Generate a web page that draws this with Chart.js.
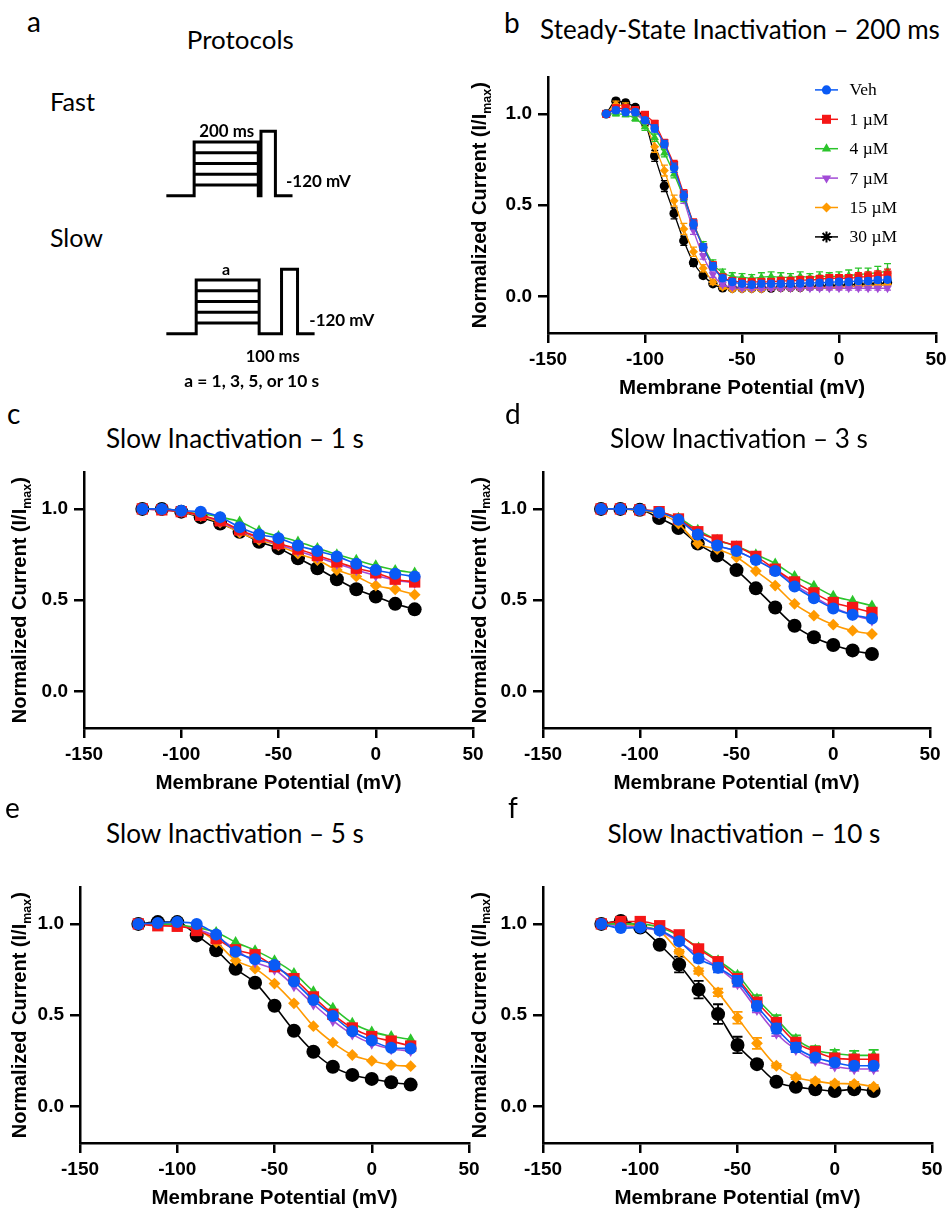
<!DOCTYPE html>
<html><head><meta charset="utf-8">
<script src="https://cdn.jsdelivr.net/npm/chart.js@4.4.1/dist/chart.umd.min.js"></script>
<style>
html,body{margin:0;padding:0;background:#fff;}
body{width:946px;height:1211px;position:relative;overflow:hidden;}
.t{position:absolute;white-space:nowrap;line-height:1;color:#000;left:0;top:0;}
canvas{position:absolute;}
</style></head><body>
<script>
// ================= DATA =================
const seriesNames = ['Veh', '1 µM', '4 µM', '7 µM', '15 µM', '30 µM'];
const xTickValues = [-150, -100, -50, 0, 50];
const yTickValues = [0, 0.5, 1.0];

// b: steady-state inactivation (200 ms)
const ssiVoltages = [-120,-115,-110,-105,-100,-95,-90,-85,-80,-75,-70,-65,-60,-55,-50,-45,-40,-35,-30,-25,-20,-15,-10,-5,0,5,10,15,20,25];
const ssiVeh = [1.00,1.02,1.01,1.01,0.965,0.92,0.835,0.705,0.552,0.395,0.27,0.165,0.10,0.08,0.07,0.065,0.07,0.07,0.07,0.07,0.072,0.075,0.075,0.078,0.08,0.08,0.085,0.085,0.09,0.092];
const ssi1 = [1.00,1.03,1.03,1.02,0.995,0.945,0.84,0.72,0.56,0.40,0.27,0.17,0.105,0.085,0.08,0.08,0.08,0.08,0.085,0.085,0.09,0.09,0.095,0.10,0.10,0.10,0.105,0.11,0.115,0.12];
const ssi4 = [1.00,1.00,0.995,0.975,0.93,0.87,0.785,0.67,0.54,0.40,0.28,0.18,0.13,0.11,0.105,0.10,0.105,0.11,0.105,0.105,0.11,0.105,0.11,0.11,0.11,0.115,0.12,0.125,0.13,0.14];
const ssi7 = [1.00,1.02,1.02,1.00,0.96,0.92,0.83,0.70,0.53,0.36,0.22,0.12,0.065,0.05,0.045,0.045,0.045,0.045,0.045,0.045,0.045,0.045,0.045,0.045,0.045,0.045,0.045,0.045,0.045,0.045];
const ssi15 = [1.00,1.05,1.04,1.01,0.95,0.82,0.69,0.525,0.37,0.245,0.155,0.08,0.05,0.04,0.04,0.04,0.04,0.045,0.045,0.045,0.045,0.05,0.05,0.05,0.05,0.055,0.055,0.06,0.06,0.065];
const ssi30 = [1.00,1.07,1.06,1.035,0.955,0.77,0.605,0.455,0.305,0.185,0.115,0.07,0.047,0.045,0.045,0.045,0.045,0.045,0.05,0.05,0.05,0.055,0.055,0.06,0.06,0.065,0.065,0.07,0.07,0.075];
const ssiVehErr = [0,0.015,0.015,0.015,0.015,0.02,0.02,0.025,0.025,0.025,0.02,0.02,0.015,0.015,0.015,0.015,0.015,0.015,0.015,0.015,0.015,0.015,0.015,0.015,0.015,0.015,0.015,0.015,0.015,0.015];
const ssi1Err = [0,0.02,0.02,0.02,0.015,0.02,0.02,0.025,0.025,0.025,0.02,0.02,0.015,0.015,0.015,0.015,0.015,0.015,0.02,0.02,0.02,0.02,0.02,0.02,0.02,0.02,0.025,0.025,0.025,0.03];
const ssi4Err = [0,0.01,0.01,0.015,0.02,0.02,0.02,0.02,0.02,0.02,0.02,0.02,0.02,0.02,0.02,0.02,0.025,0.025,0.025,0.02,0.025,0.02,0.025,0.02,0.025,0.03,0.035,0.03,0.035,0.04];
const ssi7Err = [0,0.015,0.015,0.015,0.015,0.015,0.02,0.02,0.02,0.02,0.015,0.015,0.01,0.01,0.01,0.01,0.01,0.01,0.01,0.01,0.01,0.01,0.01,0.01,0.01,0.01,0.01,0.01,0.01,0.01];
const ssi15Err = [0,0.02,0.02,0.02,0.02,0.03,0.03,0.03,0.03,0.025,0.02,0.015,0.01,0.01,0.01,0.01,0.01,0.01,0.01,0.01,0.01,0.01,0.01,0.01,0.01,0.01,0.01,0.01,0.01,0.01];
const ssi30Err = [0,0.015,0.015,0.015,0.02,0.03,0.03,0.03,0.025,0.02,0.015,0.01,0.01,0.01,0.01,0.01,0.01,0.01,0.01,0.01,0.01,0.01,0.01,0.01,0.01,0.01,0.01,0.01,0.01,0.01];

// c-f: slow inactivation
const slowVoltages = [-120,-110,-100,-90,-80,-70,-60,-50,-40,-30,-20,-10,0,10,20];

const s1Veh = [1.00,1.00,0.99,0.985,0.955,0.90,0.86,0.84,0.80,0.77,0.74,0.70,0.665,0.645,0.63];
const s1_1  = [1.00,0.995,0.985,0.965,0.935,0.885,0.845,0.81,0.78,0.745,0.71,0.675,0.65,0.615,0.60];
const s1_4  = [1.00,1.00,0.98,0.975,0.955,0.93,0.88,0.85,0.82,0.785,0.75,0.72,0.69,0.665,0.65];
const s1_7  = [1.00,0.995,0.985,0.965,0.93,0.88,0.84,0.805,0.77,0.735,0.70,0.665,0.635,0.61,0.595];
const s1_15 = [1.00,1.00,0.985,0.96,0.925,0.87,0.83,0.80,0.755,0.72,0.665,0.63,0.58,0.56,0.53];
const s1_30 = [1.00,1.00,0.985,0.955,0.92,0.875,0.82,0.785,0.73,0.675,0.615,0.56,0.52,0.48,0.45];

const s3Veh = [1.00,1.00,0.995,0.98,0.94,0.86,0.80,0.77,0.72,0.66,0.575,0.51,0.455,0.42,0.40];
const s3_1  = [1.00,1.00,0.995,0.985,0.945,0.875,0.83,0.795,0.74,0.67,0.60,0.54,0.487,0.46,0.433];
const s3_4  = [1.00,1.00,0.995,0.98,0.95,0.885,0.83,0.795,0.75,0.70,0.632,0.578,0.523,0.496,0.47];
const s3_7  = [1.00,1.00,0.995,0.98,0.94,0.86,0.80,0.77,0.72,0.665,0.585,0.52,0.46,0.42,0.39];
const s3_15 = [1.00,1.00,0.99,0.975,0.92,0.81,0.78,0.735,0.66,0.58,0.48,0.415,0.366,0.333,0.315];
const s3_30 = [1.00,1.00,0.995,0.95,0.895,0.81,0.745,0.665,0.565,0.46,0.36,0.297,0.255,0.225,0.205];

const s5Veh = [1.00,1.005,1.01,1.00,0.942,0.847,0.807,0.775,0.685,0.583,0.496,0.412,0.361,0.322,0.318];
const s5_1  = [1.00,0.99,0.987,0.964,0.919,0.858,0.831,0.766,0.70,0.60,0.505,0.43,0.383,0.358,0.331];
const s5_4  = [1.00,1.00,0.995,0.98,0.955,0.90,0.855,0.80,0.73,0.63,0.54,0.457,0.41,0.385,0.367];
const s5_7  = [1.00,1.00,0.99,0.97,0.93,0.86,0.79,0.75,0.66,0.56,0.47,0.395,0.345,0.315,0.305];
const s5_15 = [1.00,1.00,0.995,0.97,0.90,0.80,0.755,0.673,0.565,0.44,0.35,0.282,0.25,0.227,0.221];
const s5_30 = [1.00,1.01,1.01,0.937,0.856,0.754,0.678,0.552,0.415,0.30,0.218,0.173,0.151,0.133,0.12];

const s10Veh = [1.00,0.977,0.98,0.964,0.905,0.81,0.76,0.688,0.55,0.427,0.323,0.268,0.241,0.223,0.223];
const s10_1  = [1.00,1.013,1.013,0.99,0.94,0.863,0.793,0.70,0.571,0.46,0.351,0.301,0.265,0.259,0.259];
const s10_4  = [1.00,1.00,1.00,0.98,0.935,0.87,0.80,0.72,0.59,0.48,0.37,0.31,0.29,0.28,0.28];
const s10_7  = [1.00,0.99,0.98,0.96,0.90,0.83,0.76,0.67,0.53,0.40,0.31,0.25,0.22,0.205,0.205];
const s10_15 = [1.00,1.00,0.985,0.96,0.847,0.742,0.625,0.486,0.346,0.223,0.16,0.139,0.126,0.124,0.108];
const s10_30 = [1.00,1.016,0.98,0.886,0.778,0.64,0.506,0.337,0.232,0.135,0.108,0.094,0.085,0.094,0.085];
const s10VehErr = [0,0.01,0.01,0.01,0.015,0.02,0.025,0.027,0.025,0.027,0.025,0.015,0.01,0.01,0.01];
const s10_1Err  = [0,0.01,0.01,0.01,0.01,0.015,0.015,0.015,0.02,0.02,0.015,0.01,0.015,0.02,0.02];
const s10_4Err  = [0,0.01,0.01,0.01,0.01,0.01,0.015,0.015,0.02,0.02,0.02,0.02,0.02,0.025,0.03];
const s10_7Err  = [0,0.01,0.01,0.01,0.01,0.01,0.015,0.015,0.015,0.015,0.01,0.01,0.01,0.01,0.01];
const s10_15Err = [0,0.01,0.01,0.01,0.01,0.015,0.02,0.032,0.03,0.01,0.01,0.01,0.01,0.01,0.01];
const s10_30Err = [0,0.01,0.01,0.02,0.043,0.048,0.054,0.045,0.015,0.01,0.01,0.01,0.01,0.01,0.01];

// a: protocol schematic (time in schematic units, level 0 = holding at -120 mV)
const fastWaveT = [0, 2.6, 2.6, 8.6, 8.6, 8.85, 8.85, 10.2, 10.2, 11.8];
const fastWaveV = [0, 0, 5, 5, 0, 0, 6, 6, 0, 0];
const fastStepSpan = [2.6, 8.6];
const slowWaveT = [0, 2.8, 2.8, 8.7, 8.7, 10.8, 10.8, 12.3, 12.3, 13.9];
const slowWaveV = [0, 0, 5, 5, 0, 0, 6, 6, 0, 0];
const slowStepSpan = [2.8, 8.7];
const stepLevels = [1, 2, 3, 4];

// ================= STYLE =================
const F_SANS = "'Liberation Sans', Arial, Helvetica, sans-serif";
const F_CAL = "Lato, 'Open Sans', sans-serif";
const F_SERIF = "'Liberation Serif', 'Times New Roman', serif";
const STY = [
  {color:'#0a5af5', style:'circle',   rot:0,   rBig:6.0, rSmall:4.3},
  {color:'#f51616', style:'rect',     rot:0,   rBig:8.0, rSmall:5.7},
  {color:'#2bc42b', style:'triangle', rot:0,   rBig:6.2, rSmall:4.9},
  {color:'#a24bd6', style:'triangle', rot:180, rBig:6.2, rSmall:4.9},
  {color:'#ff9a00', style:'rectRot',  rot:0,   rBig:5.9, rSmall:4.5},
  {color:'#000000', style:'circle',   rot:0,   rBig:7.0, rSmall:4.7}
];

// ================= HELPERS =================
function addText(str, o) {
  const d = document.createElement('div');
  d.className = 't';
  d.style.fontFamily = o.family;
  d.style.fontWeight = o.weight || 'normal';
  d.style.fontSize = o.size + 'px';
  d.textContent = str;
  const mark = document.createElement('i');
  mark.style.cssText = 'display:inline-block;width:0;height:0;vertical-align:baseline';
  d.appendChild(mark);
  document.body.appendChild(d);
  let w = d.getBoundingClientRect().width;
  if (o.width) {
    const s = o.size * o.width / w;
    d.style.fontSize = s + 'px';
    w = d.getBoundingClientRect().width;
  }
  const by = mark.getBoundingClientRect().top - d.getBoundingClientRect().top;
  const left = o.align === 'center' ? o.x - w / 2 : o.x;
  d.style.left = left + 'px';
  d.style.top = (o.baseline - by) + 'px';
}

function makeCanvas(left, top, w, h) {
  const c = document.createElement('canvas');
  c.width = w; c.height = h;
  c.style.left = left + 'px'; c.style.top = top + 'px';
  c.style.width = w + 'px'; c.style.height = h + 'px';
  document.body.appendChild(c);
  return c;
}

const errorBarPlugin = {
  id: 'errorBars',
  beforeDatasetDraw(chart, args) {
    const ds = chart.data.datasets[args.index];
    if (!ds.errors) return;
    const ys = chart.scales.y, ctx = chart.ctx;
    ctx.save();
    ctx.strokeStyle = ds.borderColor;
    ctx.lineWidth = ds.errWidth || 1.5;
    args.meta.data.forEach((pt, i) => {
      const e = ds.errors[i];
      if (!e) return;
      const v = ds.data[i].y;
      const yT = ys.getPixelForValue(v + e), yB = ys.getPixelForValue(v - e);
      const cw = ds.capHalf || 4;
      ctx.beginPath();
      ctx.moveTo(pt.x, yT); ctx.lineTo(pt.x, yB);
      ctx.moveTo(pt.x - cw, yT); ctx.lineTo(pt.x + cw, yT);
      ctx.moveTo(pt.x - cw, yB); ctx.lineTo(pt.x + cw, yB);
      ctx.stroke();
    });
    ctx.restore();
  }
};

function makeYTitle(baseOffset) {
  return {
    id: 'yTitle',
    afterDraw(chart) {
      const {ctx, chartArea} = chart;
      const big = "bold 20px " + F_SANS, small = "bold 12.5px " + F_SANS;
      const main = 'Normalized Current (I/I', sub = 'max', end = ')';
      ctx.save();
      ctx.font = big; const w1 = ctx.measureText(main).width; const w3 = ctx.measureText(end).width;
      ctx.font = small; const w2 = ctx.measureText(sub).width;
      const total = w1 + w2 + w3;
      const cy = (chartArea.top + chartArea.bottom) / 2;
      ctx.translate(chartArea.left + baseOffset, cy);
      ctx.rotate(-Math.PI / 2);
      ctx.fillStyle = '#000'; ctx.textBaseline = 'alphabetic'; ctx.textAlign = 'left';
      let x = -total / 2;
      ctx.font = big; ctx.fillText(main, x, 0); x += w1;
      ctx.font = small; ctx.fillText(sub, x, 4.5); x += w2;
      ctx.font = big; ctx.fillText(end, x, 0);
      ctx.restore();
    }
  };
}

const ssiLegendPlugin = {
  id: 'ssiLegend',
  afterDatasetsDraw(chart) {
    const {ctx, chartArea: {left, top}} = chart;
    const radii = [4.6, 6.4, 5.4, 5.4, 5.0, 5.2];
    seriesNames.forEach((name, i) => {
      const st = STY[i];
      const y = top + 12.5 + i * 29.4;
      const mx = left + 278.5;
      ctx.save();
      ctx.strokeStyle = st.color; ctx.fillStyle = st.color; ctx.lineWidth = 1.5;
      ctx.beginPath(); ctx.moveTo(left + 267, y); ctx.lineTo(left + 290, y); ctx.stroke();
      if (i === 5) {
        ctx.lineWidth = 2;
        Chart.helpers.drawPoint(ctx, {pointStyle: 'star', radius: 5.5, rotation: 0, borderWidth: 2}, mx, y);
        Chart.helpers.drawPoint(ctx, {pointStyle: 'circle', radius: 2.5, rotation: 0, borderWidth: 0}, mx, y);
      } else {
        Chart.helpers.drawPoint(ctx, {pointStyle: st.style, radius: radii[i], rotation: st.rot, borderWidth: 0}, mx, y);
      }
      ctx.fillStyle = '#000'; ctx.font = '17.5px ' + F_SERIF;
      ctx.textBaseline = 'middle'; ctx.textAlign = 'left';
      ctx.fillText(name, left + 301.5, y + 1);
      ctx.restore();
    });
  }
};

function panel(box, xs, series, errs, o) {
  const padL = 20, yW = 70, padT = 14, xH = 75, padR = 20;
  const cw = box.r - box.l + yW + padL + padR;
  const ch = box.b - box.t + padT + xH;
  const cv = makeCanvas(box.l - yW - padL, box.t - padT, cw, ch);
  const datasets = series.map((vals, k) => {
    const st = STY[k];
    return {
      label: seriesNames[k],
      data: xs.map((x, i) => ({x: x, y: vals[i]})),
      errors: errs ? errs[k] : null,
      capHalf: o.capHalf, errWidth: o.errWidth,
      borderColor: st.color, backgroundColor: st.color,
      borderWidth: o.lineWidth,
      pointStyle: st.style, pointRotation: st.rot,
      pointRadius: o.small ? st.rSmall : st.rBig,
      pointBackgroundColor: st.color, pointBorderColor: st.color, pointBorderWidth: 0,
      cubicInterpolationMode: 'monotone', fill: false, clip: false
    };
  });
  const tickFont = {family: F_SANS, size: 19, weight: 'bold'};
  const plugins = [errorBarPlugin, makeYTitle(o.yTitleOffset)];
  if (o.legend) plugins.push(ssiLegendPlugin);
  return new Chart(cv, {
    type: 'line',
    data: {datasets},
    options: {
      responsive: false, animation: false, devicePixelRatio: 1, events: [],
      layout: {padding: {left: padL, top: padT, right: padR, bottom: 0}},
      plugins: {legend: {display: false}, tooltip: {enabled: false}},
      scales: {
        x: {
          type: 'linear', min: -150, max: 50,
          afterBuildTicks: s => { s.ticks = xTickValues.map(v => ({value: v})); },
          afterFit: s => { s.height = xH; },
          ticks: {font: tickFont, color: '#000', padding: 5, maxRotation: 0, callback: v => String(v)},
          grid: {drawOnChartArea: false, drawTicks: true, tickLength: 10, color: '#000', tickColor: '#000', lineWidth: 2.5, tickWidth: 2.5},
          border: {display: true, color: '#000', width: 2.5},
          title: {display: true, text: 'Membrane Potential (mV)', color: '#000',
                  font: {family: F_SANS, size: 20.5, weight: 'bold'}, padding: {top: 0, bottom: 7}}
        },
        y: {
          type: 'linear', min: -0.2, max: 1.2,
          afterBuildTicks: s => { s.ticks = yTickValues.map(v => ({value: v})); },
          afterFit: s => { s.width = yW; },
          ticks: {font: tickFont, color: '#000', padding: 6, callback: v => Number(v).toFixed(1)},
          grid: {drawOnChartArea: false, drawTicks: true, tickLength: 10, color: '#000', tickColor: '#000', lineWidth: 2.5, tickWidth: 2.5},
          border: {display: true, color: '#000', width: 2.5}
        }
      }
    },
    plugins: plugins
  });
}

function protocolChart(left, top, w, h, xmax, waveT, waveV, span) {
  const cv = makeCanvas(left, top, w, h);
  const ds = [{data: waveT.map((t, i) => ({x: t, y: waveV[i]}))}];
  stepLevels.forEach(L => ds.push({data: [{x: span[0], y: L}, {x: span[1], y: L}]}));
  ds.forEach(d => Object.assign(d, {borderColor: '#000', borderWidth: 3, pointRadius: 0, tension: 0,
    borderJoinStyle: 'miter', borderCapStyle: 'butt', fill: false}));
  return new Chart(cv, {
    type: 'line', data: {datasets: ds},
    options: {
      responsive: false, animation: false, devicePixelRatio: 1, events: [],
      layout: {padding: 0},
      plugins: {legend: {display: false}, tooltip: {enabled: false}},
      scales: {
        x: {type: 'linear', display: false, min: -0.5, max: xmax},
        y: {type: 'linear', display: false, min: -0.5, max: 6.5}
      }
    }
  });
}

// ================= BUILD =================
// panel a
protocolChart(161, 126, 139, 75, 12.5, fastWaveT, fastWaveV, fastStepSpan);
protocolChart(161, 264, 160, 75, 14.5, slowWaveT, slowWaveV, slowStepSpan);

// panel b
panel({l: 548, r: 936, t: 74, b: 333}, ssiVoltages,
  [ssiVeh, ssi1, ssi4, ssi7, ssi15, ssi30],
  [ssiVehErr, ssi1Err, ssi4Err, ssi7Err, ssi15Err, ssi30Err],
  {small: true, lineWidth: 1.3, legend: true, yTitleOffset: -61.7, capHalf: 3.5, errWidth: 1.3});
// panel c
panel({l: 84, r: 473, t: 469, b: 728}, slowVoltages,
  [s1Veh, s1_1, s1_4, s1_7, s1_15, s1_30], null,
  {small: false, lineWidth: 1.6, yTitleOffset: -57.6});
// panel d
panel({l: 543, r: 930, t: 469, b: 728}, slowVoltages,
  [s3Veh, s3_1, s3_4, s3_7, s3_15, s3_30], null,
  {small: false, lineWidth: 1.6, yTitleOffset: -57.5});
// panel e
panel({l: 80, r: 469, t: 884, b: 1143}, slowVoltages,
  [s5Veh, s5_1, s5_4, s5_7, s5_15, s5_30], null,
  {small: false, lineWidth: 1.6, yTitleOffset: -54});
// panel f
panel({l: 543, r: 932, t: 884, b: 1143}, slowVoltages,
  [s10Veh, s10_1, s10_4, s10_7, s10_15, s10_30],
  [s10VehErr, s10_1Err, s10_4Err, s10_7Err, s10_15Err, s10_30Err],
  {small: false, lineWidth: 1.6, yTitleOffset: -57.3, capHalf: 5, errWidth: 1.8});

// texts
const CAL = {family: F_CAL, size: 26};
const CALB = {family: F_CAL, size: 15, weight: 'bold'};
addText('a', {...CAL, size: 28, x: 27, baseline: 32});
addText('Protocols', {...CAL, x: 240.3, baseline: 49.3, align: 'center', width: 107});
addText('Fast', {...CAL, x: 50, baseline: 111, width: 45});
addText('Slow', {...CAL, x: 50, baseline: 246.7, width: 53});
addText('200 ms', {...CALB, x: 226.7, baseline: 136.7, align: 'center', width: 55});
addText('-120 mV', {...CALB, x: 286, baseline: 187.3, width: 65});
addText('a', {...CALB, size: 16, x: 226, baseline: 275.3, align: 'center'});
addText('-120 mV', {...CALB, x: 309.3, baseline: 325.7, width: 65});
addText('100 ms', {...CALB, x: 272.7, baseline: 361.7, align: 'center', width: 54});
addText('a = 1, 3, 5, or 10 s', {...CALB, x: 251.7, baseline: 386.7, align: 'center', width: 135});

addText('b', {...CAL, size: 28, x: 504, baseline: 33});
addText('Steady-State Inactivation – 200 ms', {...CAL, x: 740, baseline: 39.3, align: 'center', width: 400});
addText('c', {...CAL, size: 28, x: 7, baseline: 424});
addText('Slow Inactivation – 1 s', {...CAL, x: 235, baseline: 448, align: 'center', width: 258});
addText('d', {...CAL, size: 28, x: 505, baseline: 424});
addText('Slow Inactivation – 3 s', {...CAL, x: 739, baseline: 448, align: 'center', width: 258});
addText('e', {...CAL, size: 28, x: 5, baseline: 818});
addText('Slow Inactivation – 5 s', {...CAL, x: 235, baseline: 842.7, align: 'center', width: 258});
addText('f', {...CAL, size: 28, x: 508, baseline: 818});
addText('Slow Inactivation – 10 s', {...CAL, x: 744, baseline: 842.7, align: 'center', width: 273});
</script>
</body></html>
